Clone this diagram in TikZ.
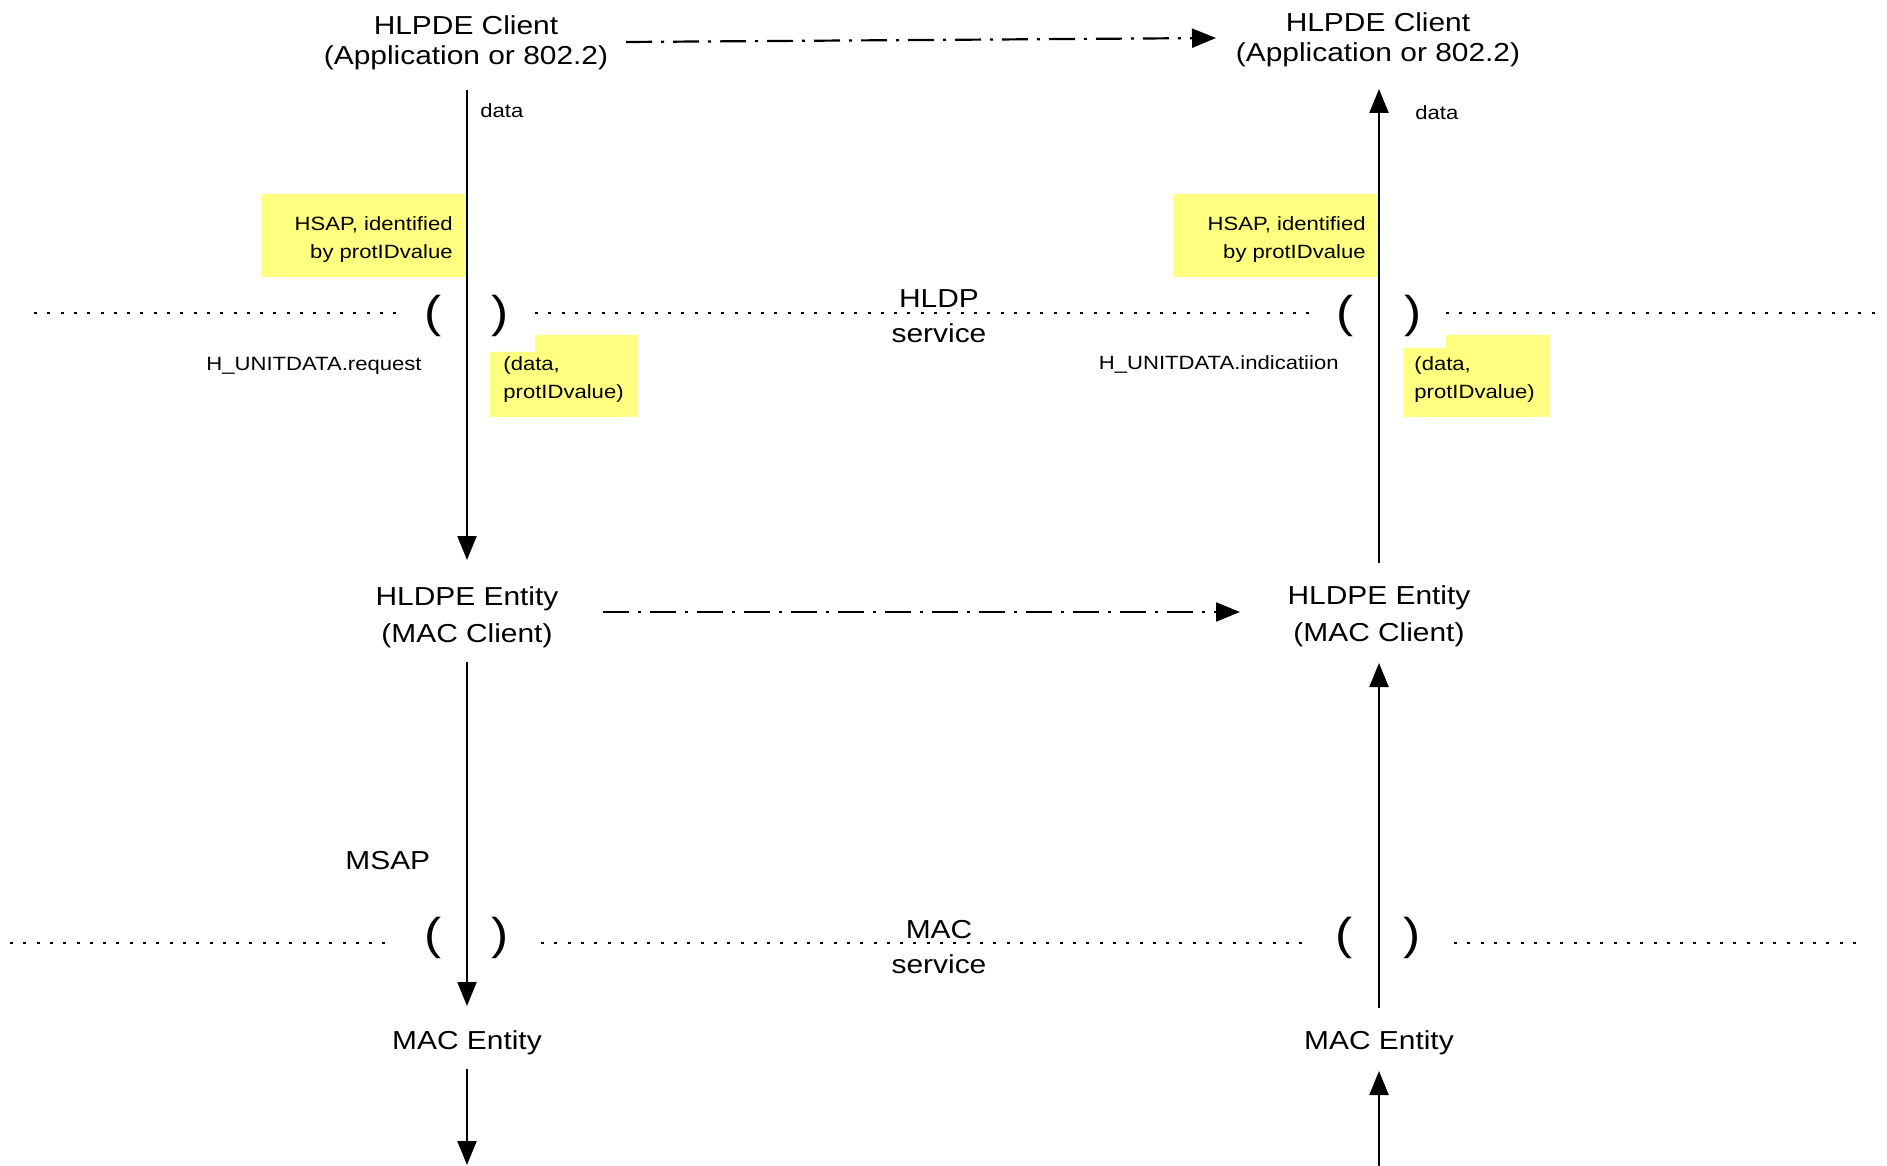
\documentclass[tikz,border=0pt]{standalone}
\usepackage{fontspec}
\setmainfont{Liberation Sans}[FakeStretch=1.15]
\usetikzlibrary{arrows.meta}
\definecolor{noteyellow}{RGB}{255,255,128}
\tikzset{
  bigtxt/.style={font=\fontsize{13pt}{15pt}\selectfont, inner sep=0pt, align=center},
  enttxt/.style={font=\fontsize{13pt}{18.5pt}\selectfont, inner sep=0pt, align=center},
  svctxt/.style={font=\fontsize{13pt}{17.5pt}\selectfont, inner sep=0pt, align=center},
  smalltxt/.style={font=\fontsize{9.6pt}{14pt}\selectfont, inner sep=0pt},
  parentxt/.style={font=\fontsize{22.3pt}{26pt}\selectfont, inner sep=0pt},
  flow/.style={line width=1.1pt, -{Triangle[length=12pt,width=9.5pt]}},
  peer/.style={flow, dash pattern=on 13pt off 4.5pt on 1.5pt off 4.5pt},
  svcline/.style={line width=1pt, dash pattern=on 1.5pt off 5.15pt},
  notefill/.style={fill=noteyellow, draw=none},
}
\begin{document}
\begin{tikzpicture}[x=0.5pt, y=-0.5pt]
\useasboundingbox (0,0) rectangle (1887,1166);

% yellow notes
\fill[notefill] (261,194) rectangle (467,277);
\fill[notefill] (1173,194) rectangle (1379,277);
\fill[notefill] (490,352) -- (535,352) -- (535,335) -- (638,335) -- (638,417) -- (490,417) -- cycle;
\fill[notefill] (1403,348) -- (1446,348) -- (1446,335) -- (1550,335) -- (1550,417) -- (1403,417) -- cycle;

% main nodes
\node[bigtxt, anchor=north] (cl) at (466,15) {HLPDE Client\\(Application or 802.2)};
\node[bigtxt, anchor=north] (cr) at (1378,12.5) {HLPDE Client\\(Application or 802.2)};
\node[enttxt, anchor=north] (el) at (467,586) {HLDPE Entity\\(MAC Client)};
\node[enttxt, anchor=north] (er) at (1379,585) {HLDPE Entity\\(MAC Client)};
\node[bigtxt, anchor=base] (ml) at (467,1049) {MAC Entity};
\node[bigtxt, anchor=base] (mr) at (1379,1049) {MAC Entity};
\node[svctxt, anchor=north] (hldp) at (939,289) {HLDP\\service};
\node[svctxt, anchor=north] (macs) at (939,920) {MAC\\service};
\node[bigtxt, anchor=base west] (msap) at (345,869) {MSAP};

% small labels
\node[smalltxt, anchor=north east, align=right] (hsapl) at (453,216) {HSAP, identified\\by protIDvalue};
\node[smalltxt, anchor=north east, align=right] (hsapr) at (1366,216) {HSAP, identified\\by protIDvalue};
\node[smalltxt, anchor=base east] (reql) at (422,371) {H\_UNITDATA.request};
\node[smalltxt, anchor=base east] (indr) at (1339,370) {H\_UNITDATA.indicatiion};
\node[smalltxt, anchor=north west, align=left] (prml) at (503,356) {(data,\\protIDvalue)};
\node[smalltxt, anchor=north west, align=left] (prmr) at (1414,356) {(data,\\protIDvalue)};
\node[smalltxt, anchor=base west] (datal) at (480,118) {data};
\node[smalltxt, anchor=base west] (datar) at (1415,120) {data};

% parentheses (service access points)
\node[parentxt] (hlo) at (433,316) {(};
\node[parentxt] (hlc) at (500.5,316) {)};
\node[parentxt] (hro) at (1345,316) {(};
\node[parentxt] (hrc) at (1413.5,316) {)};
\node[parentxt] (mlo) at (433,937.5) {(};
\node[parentxt] (mlc) at (500,937.5) {)};
\node[parentxt] (mro) at (1344,937.5) {(};
\node[parentxt] (mrc) at (1412,937.5) {)};

% service boundary lines
\draw[svcline] (34,313) -- (397,313);
\draw[svcline] (535,313) -- (1310,313);
\draw[svcline] (1446,313) -- (1877,313);
\draw[svcline] (10,943) -- (394,943);
\draw[svcline] (541,943) -- (1308,943);
\draw[svcline] (1454,943) -- (1856,943);

% connector ports
\coordinate (clout) at (467,90);
\coordinate (elin) at (467,560);
\coordinate (elout) at (467,662);
\coordinate (mlin) at (467,1006);
\coordinate (mlout) at (467,1069);
\coordinate (lbot) at (467,1165);
\coordinate (crin) at (1379,89);
\coordinate (erout) at (1379,563);
\coordinate (erin) at (1379,663);
\coordinate (mrout) at (1379,1008);
\coordinate (mrin) at (1379,1071);
\coordinate (rbot) at (1379,1166);
\coordinate (clpeer) at (626,42);
\coordinate (crpeer) at (1216,38);
\coordinate (elpeer) at (603,612);
\coordinate (erpeer) at (1240,612);

% connectors
\draw[flow] (clout) -- (elin);
\draw[flow] (elout) -- (mlin);
\draw[flow] (mlout) -- (lbot);
\draw[flow] (erout) -- (crin);
\draw[flow] (mrout) -- (erin);
\draw[flow] (rbot) -- (mrin);
\draw[peer] (clpeer) -- (crpeer);
\draw[peer] (elpeer) -- (erpeer);
\end{tikzpicture}
\end{document}
